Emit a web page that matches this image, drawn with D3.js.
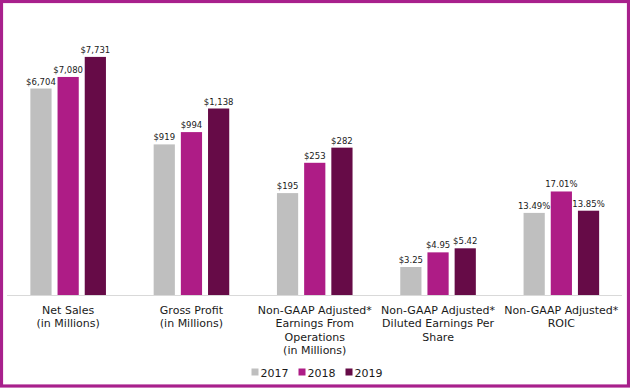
<!DOCTYPE html>
<html>
<head>
<meta charset="utf-8">
<script src="https://cdn.jsdelivr.net/npm/d3@7"></script>
<style>
  html, body { margin: 0; padding: 0; background: #fff; }
  svg { display: block; }
  text { font-family: "DejaVu Sans", Verdana, sans-serif; fill: #1a1a1a; }
</style>
</head>
<body>
<svg id="chart" width="630" height="388"></svg>
<script>
// ---- data ----
const categories = [
  ["Net Sales", "(in Millions)"],
  ["Gross Profit", "(in Millions)"],
  ["Non-GAAP Adjusted*", "Earnings From", "Operations", "(in Millions)"],
  ["Non-GAAP Adjusted*", "Diluted Earnings Per", "Share"],
  ["Non-GAAP Adjusted*", "ROIC"]
];
const years = ["2017", "2018", "2019"];
const values2017 = [6704, 919, 195, 3.25, 13.49];
const values2018 = [7080, 994, 253, 4.95, 17.01];
const values2019 = [7731, 1138, 282, 5.42, 13.85];
const labels2017 = ["$6,704", "$919", "$195", "$3.25", "13.49%"];
const labels2018 = ["$7,080", "$994", "$253", "$4.95", "17.01%"];
const labels2019 = ["$7,731", "$1,138", "$282", "$5.42", "13.85%"];
// each category is drawn on its own (hidden) value axis
const axisMax = [8280, 1556, 488, 29.6, 41.9];
const colors = ["#bfbfbf", "#ae1c86", "#660b47"];

// ---- layout ----
const svg = d3.select("#chart");
const W = 630, H = 388;
const baseY = 295, topY = 40;

svg.append("rect").attr("x", 1.5).attr("y", 1.5)
  .attr("width", W - 3).attr("height", H - 3.5)
  .attr("fill", "#fff").attr("stroke", "#a8208c").attr("stroke-width", 3.2);

const catIdx = categories.map((d, i) => i);
const x0 = d3.scaleBand().domain(catIdx).range([6.5, 623])
  .paddingInner(0.387).paddingOuter(0.1935);
const x1 = d3.scaleBand().domain(years).range([0, x0.bandwidth()])
  .paddingInner(0.22).paddingOuter(0);
const yScales = axisMax.map(m => d3.scaleLinear().domain([0, m]).range([baseY, topY]));

const seriesVals = [values2017, values2018, values2019];
const seriesLabels = [labels2017, labels2018, labels2019];

const rows = [];
catIdx.forEach(ci => {
  years.forEach((yr, si) => {
    rows.push({ ci, yr, si, v: seriesVals[si][ci], label: seriesLabels[si][ci] });
  });
});

// baseline
svg.append("line")
  .attr("x1", 7).attr("x2", 622)
  .attr("y1", baseY + 0.5).attr("y2", baseY + 0.5)
  .attr("stroke", "#d9d9d9").attr("stroke-width", 1);

const g = svg.append("g");
g.selectAll("rect.bar").data(rows).join("rect")
  .attr("class", "bar")
  .attr("x", d => x0(d.ci) + x1(d.yr))
  .attr("width", x1.bandwidth())
  .attr("y", d => yScales[d.ci](d.v))
  .attr("height", d => baseY - yScales[d.ci](d.v))
  .attr("fill", d => colors[d.si]);

g.selectAll("text.val").data(rows).join("text")
  .attr("class", "val")
  .attr("x", d => x0(d.ci) + x1(d.yr) + x1.bandwidth() / 2)
  .attr("y", d => yScales[d.ci](d.v) - 4)
  .attr("text-anchor", "middle")
  .attr("font-size", "8.5px")
  .text(d => d.label);

// category labels
const cat = svg.append("g");
categories.forEach((lines, ci) => {
  const t = cat.append("text")
    .attr("x", x0(ci) + x0.bandwidth() / 2)
    .attr("y", 313.5)
    .attr("text-anchor", "middle")
    .attr("font-size", "11px");
  lines.forEach((ln, li) => {
    t.append("tspan").attr("x", x0(ci) + x0.bandwidth() / 2)
      .attr("dy", li === 0 ? 0 : 13.5).text(ln);
  });
});

// legend
const legX = [251.5, 298.5, 345.5];
const leg = svg.append("g");
years.forEach((yr, i) => {
  leg.append("rect").attr("x", legX[i]).attr("y", 368.5)
    .attr("width", 7).attr("height", 7).attr("fill", colors[i]);
  leg.append("text").attr("x", legX[i] + 9).attr("y", 376.5)
    .attr("font-size", "11px").text(yr);
});
</script>
</body>
</html>
